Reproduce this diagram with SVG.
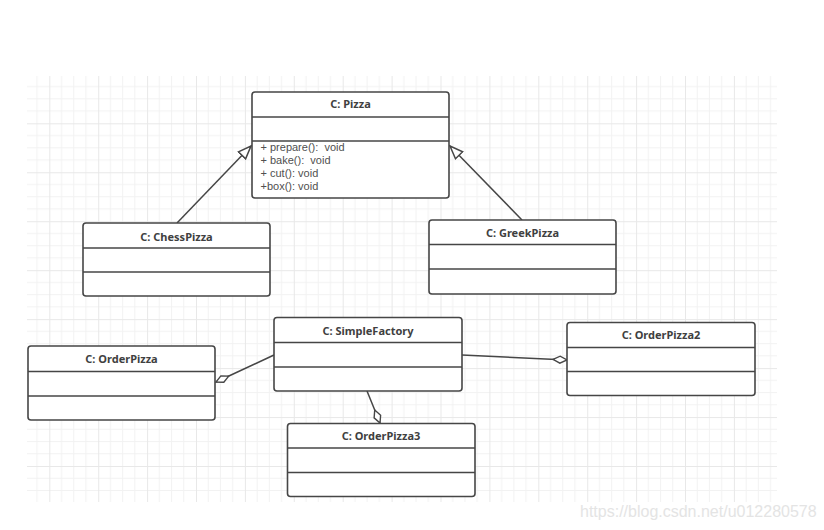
<svg xmlns="http://www.w3.org/2000/svg" width="824" height="530" viewBox="0 0 824 530">
<style>
.box{fill:#fff;stroke:#464646;stroke-width:1.6}
.div{stroke:#464646;stroke-width:1.6}
.title{font-family:"Noto Sans","Open Sans","Liberation Sans",sans-serif;font-size:11px;font-weight:bold;fill:#404040;text-anchor:middle}
.meth{font-family:"Liberation Sans","Noto Sans",sans-serif;font-size:11px;fill:#505050}
.conn{fill:none;stroke:#464646;stroke-width:1.5}
</style>
<defs>
<pattern id="grid" patternUnits="userSpaceOnUse" x="49.3" y="123.3" width="48.9" height="48.96">
<path d="M12.22,0V48.96M24.45,0V48.96M36.67,0V48.96M0,12.24H48.9M0,24.48H48.9M0,36.72H48.9" stroke="#f2f2f2" stroke-width="1" fill="none"/>
<path d="M0.5,0V48.96M0,0.5H48.9" stroke="#e8e8e8" stroke-width="1" fill="none"/>
</pattern>
<marker id="tri" markerUnits="userSpaceOnUse" markerWidth="16" markerHeight="14" refX="13" refY="5" orient="auto" viewBox="-1 -1 16 12">
<path d="M0,0 L13,5 L0,10 Z" fill="#fff" stroke="#464646" stroke-width="1.5"/>
</marker>
<marker id="dia" markerUnits="userSpaceOnUse" markerWidth="18" markerHeight="12" refX="15" refY="4" orient="auto" viewBox="-1 -1 18 10">
<path d="M1,4 L8,0.5 L15,4 L8,7.5 Z" fill="#fff" stroke="#464646" stroke-width="1.4"/>
</marker>
</defs>
<rect x="0" y="0" width="824" height="530" fill="#fff"/>
<rect x="27" y="76" width="750" height="426" fill="url(#grid)"/>
<text x="580" y="517" font-family="Liberation Sans, Arial, sans-serif" font-size="16" fill="#e4e4e4">https://blog.csdn.net/u012280578</text>

<g id="connectors">
<line class="conn" x1="177" y1="223" x2="251" y2="146" marker-end="url(#tri)"/>
<line class="conn" x1="522" y1="220" x2="450" y2="146" marker-end="url(#tri)"/>
<line class="conn" x1="274" y1="355" x2="216" y2="382" marker-end="url(#dia)"/>
<line class="conn" x1="462" y1="355" x2="567" y2="360" marker-end="url(#dia)"/>
<line class="conn" x1="367" y1="391" x2="380" y2="423" marker-end="url(#dia)"/>
</g>

<g id="Pizza">
<rect class="box" x="252" y="92" width="197" height="106" rx="3"/>
<line class="div" x1="252" y1="117" x2="449" y2="117"/>
<line class="div" x1="252" y1="141" x2="449" y2="141"/>
<text class="title" x="350.5" y="108">C: Pizza</text>
<text class="meth" x="260.5" y="151">+ prepare():&#160; void</text>
<text class="meth" x="260.5" y="164">+ bake():&#160; void</text>
<text class="meth" x="260.5" y="177">+ cut(): void</text>
<text class="meth" x="260.5" y="190">+box(): void</text>
</g>

<g id="ChessPizza">
<rect class="box" x="83" y="223" width="187" height="73" rx="3"/>
<line class="div" x1="83" y1="248" x2="270" y2="248"/>
<line class="div" x1="83" y1="272" x2="270" y2="272"/>
<text class="title" x="176.5" y="240.5">C: ChessPizza</text>
</g>

<g id="GreekPizza">
<rect class="box" x="429" y="220" width="187" height="74" rx="3"/>
<line class="div" x1="429" y1="244.5" x2="616" y2="244.5"/>
<line class="div" x1="429" y1="269" x2="616" y2="269"/>
<text class="title" x="522.5" y="236.5">C: GreekPizza</text>
</g>

<g id="SimpleFactory">
<rect class="box" x="274" y="317.5" width="188" height="73.5" rx="3"/>
<line class="div" x1="274" y1="342.5" x2="462" y2="342.5"/>
<line class="div" x1="274" y1="367" x2="462" y2="367"/>
<text class="title" x="368" y="334.5">C: SimpleFactory</text>
</g>

<g id="OrderPizza">
<rect class="box" x="28" y="346" width="187" height="74" rx="3"/>
<line class="div" x1="28" y1="371.5" x2="215" y2="371.5"/>
<line class="div" x1="28" y1="396" x2="215" y2="396"/>
<text class="title" x="121.5" y="363">C: OrderPizza</text>
</g>

<g id="OrderPizza2">
<rect class="box" x="567" y="322.5" width="188" height="73" rx="3"/>
<line class="div" x1="567" y1="347.5" x2="755" y2="347.5"/>
<line class="div" x1="567" y1="371.5" x2="755" y2="371.5"/>
<text class="title" x="661" y="339">C: OrderPizza2</text>
</g>

<g id="OrderPizza3">
<rect class="box" x="287.5" y="423.5" width="187.5" height="73" rx="3"/>
<line class="div" x1="287.5" y1="448" x2="475" y2="448"/>
<line class="div" x1="287.5" y1="472.5" x2="475" y2="472.5"/>
<text class="title" x="381" y="440">C: OrderPizza3</text>
</g>
</svg>
